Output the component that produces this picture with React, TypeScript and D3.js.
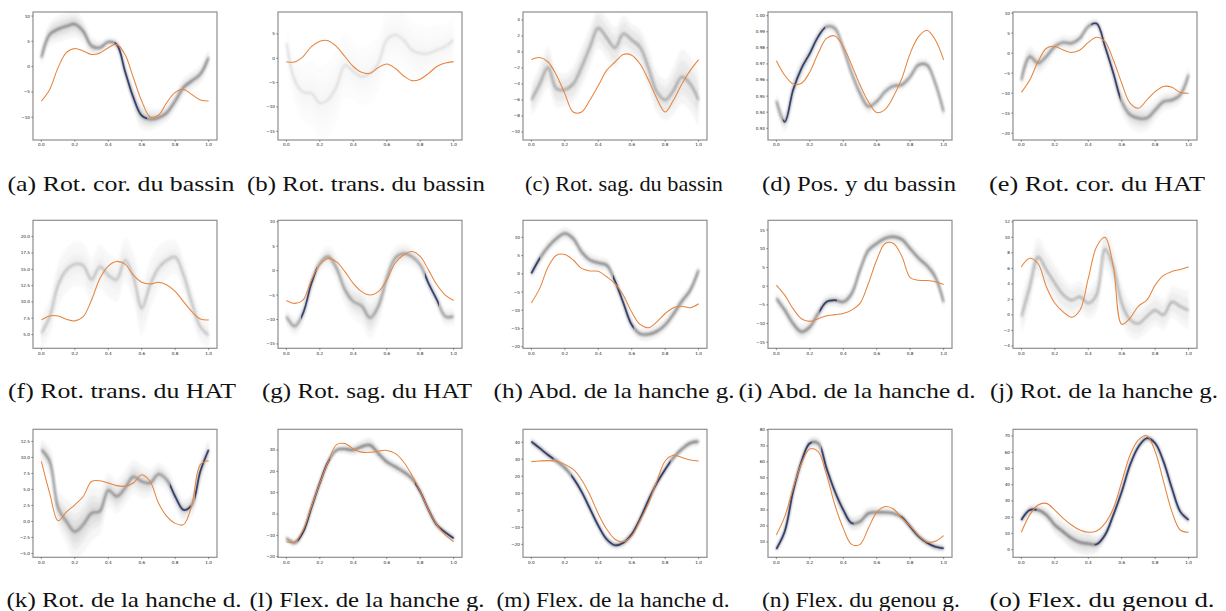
import React from "react";
import * as d3 from "d3";

// ---------- shared sample grids ----------
const T21 = [0, 0.05, 0.1, 0.15, 0.2, 0.25, 0.3, 0.35, 0.4, 0.45, 0.5, 0.55, 0.6, 0.65, 0.7, 0.75, 0.8, 0.85, 0.9, 0.95, 1];
const T11 = [0, 0.1, 0.2, 0.3, 0.4, 0.5, 0.6, 0.7, 0.8, 0.9, 1];
const xTicks = [0, 0.2, 0.4, 0.6, 0.8, 1.0];

// ---------- (a) ----------
const aOrange = [-6.8, -4.5, -0.2, 2.8, 3.6, 3.1, 2.4, 2.7, 3.75, 4.4, 2.4, -2.2, -6.8, -9.9, -9.6, -7.1, -5.1, -4.5, -5.5, -6.6, -6.8];
const aBundle = [1.8, 6.4, 7.4, 8.0, 8.4, 7.0, 4.1, 3.75, 4.9, 4.4, -0.9, -6.1, -9.7, -10.4, -10.1, -9.1, -6.8, -4.1, -2.8, -1.5, 1.8];
const aSpread = [1, 1.5, 1.5, 1, 0.5, 0.7, 1.5, 1, 1, 1, 1];
const aYTicks = [-10, -5, 0, 5, 10];
// ---------- (b) ----------
const bOrange = [-0.7, -0.75, 0.35, 2.4, 3.5, 3.6, 2.4, 0.35, -1.7, -2.9, -3.1, -1.9, -1.2, -2.05, -3.6, -4.6, -4.3, -3.1, -1.7, -1.0, -0.7];
const bBundle = [3.1, -4.5, -7.0, -7.2, -9.2, -8.5, -5.8, -1.4, -2.7, -3.8, -3.1, -1.0, 3.8, 4.8, 3.8, 1.7, 1.0, 1.0, 1.7, 2.4, 3.8];
const bSpread = [2.5, 3.5, 4.5, 4.5, 3.5, 3.5, 3.5, 3.5, 3.5, 3, 2.5];
const bYTicks = [-15, -10, -5, 0, 5];
// ---------- (c) ----------
const cOrange = [-0.95, -0.7, -1.25, -2.9, -5.2, -7.5, -7.5, -6.0, -4.2, -2.3, -1.25, -0.3, -0.4, -1.5, -3.5, -5.8, -7.5, -6.0, -4.0, -2.3, -0.95];
const cBundle = [-6.0, -4.0, -1.9, -4.6, -4.7, -4.0, -1.9, 0.6, 3.0, 1.8, 0.5, 2.3, 1.5, 0.6, -2.0, -5.0, -6.0, -4.8, -3.1, -4.0, -6.0];
const cSpread = [1.2, 1.5, 1.2, 1.5, 1.5, 1.5, 1.2, 1.5, 1.5, 2, 2];
const cYTicks = [-10, -8, -6, -4, -2, 0, 2, 4];
// ---------- (d) ----------
const dOrange = [0.972, 0.963, 0.9576, 0.958, 0.965, 0.9766, 0.9859, 0.9874, 0.9807, 0.9694, 0.957, 0.9466, 0.9398, 0.9418, 0.9497, 0.961, 0.9766, 0.987, 0.991, 0.985, 0.9725];
const dBundle = [0.947, 0.934, 0.9538, 0.9673, 0.9766, 0.987, 0.9932, 0.9921, 0.9797, 0.9642, 0.9518, 0.9435, 0.9466, 0.9528, 0.9563, 0.957, 0.9621, 0.9694, 0.9694, 0.958, 0.9404];
const dSpread = [0.003, 0.004, 0.003, 0.002, 0.002, 0.003, 0.002, 0.002, 0.002, 0.002, 0.003];
const dYTicks = [0.93, 0.94, 0.95, 0.96, 0.97, 0.98, 0.99, 1.0];
// ---------- (e) ----------
const eOrange = [-9.8, -6.7, -2.1, 1.25, 1.7, 0.8, 0.2, 0.8, 2.7, 4.0, 2.9, -1.7, -7.5, -12.5, -13.75, -11.7, -9.6, -8.3, -8.5, -9.8, -10.0];
const eBundle = [-6.7, -0.8, -2.5, -0.8, 1.7, 2.7, 2.5, 3.75, 6.7, 7.4, 1.7, -5.0, -12.1, -15.4, -16.25, -16.25, -14.2, -12.1, -11.7, -10.4, -5.4];
const eSpread = [1.5, 1.5, 1, 1, 0.7, 0.7, 1.5, 2, 1.5, 1.2, 1.2];
const eYTicks = [-20, -15, -10, -5, 0, 5, 10];
// ---------- (f) ----------
const fOrange = [7.25, 7.85, 7.85, 7.35, 7.1, 7.75, 10.3, 13.6, 15.5, 16.2, 15.8, 14.1, 13.0, 12.75, 13.0, 12.6, 11.6, 10.05, 8.5, 7.4, 7.25];
const fBundle = [5.2, 7.75, 12.6, 14.9, 15.8, 15.6, 13.4, 15.4, 14.1, 13.4, 16.4, 13.9, 9.0, 12.6, 15.2, 16.4, 16.9, 14.1, 9.8, 6.2, 4.9];
const fSpread = [1.5, 2, 2, 2, 2, 2, 2.5, 2, 1.5, 1.5, 1.2];
const fYTicks = [5, 7.5, 10, 12.5, 15, 17.5, 20];
// ---------- (g) ----------
const gOrange = [-6.1, -6.7, -6.0, -1.9, 1.2, 2.5, 1.8, -0.2, -2.6, -4.3, -5.0, -4.3, -1.9, 1.5, 3.2, 3.9, 2.9, 0.1, -2.9, -5.0, -6.1];
const gBundle = [-9.4, -11.4, -8.7, -2.6, 1.5, 2.9, 0.5, -3.9, -6.3, -7.2, -9.7, -7.3, -1.6, 2.5, 3.5, 2.9, 1.2, -2.6, -6.0, -9.4, -9.4];
const gSpread = [1, 1.2, 1, 1.5, 2, 2.5, 1.5, 1.2, 1, 1, 1];
const gYTicks = [-15, -10, -5, 0, 5, 10];
// ---------- (h) ----------
const hOrange = [-8.0, -4.0, 1.9, 5.1, 5.3, 3.8, 1.5, 0.8, 0.7, -0.8, -2.7, -5.9, -10.5, -13.9, -14.8, -13.2, -10.9, -9.3, -8.9, -9.3, -8.2];
const hBundle = [0.1, 4.2, 7.4, 9.7, 11.1, 9.7, 6.05, 3.8, 3.0, 2.4, -2.0, -8.0, -14.0, -16.5, -16.6, -15.8, -14.0, -11.0, -7.5, -4.5, 1.0];
const hSpread = [1, 1, 1, 1, 1, 1, 1, 1, 1, 1, 1];
const hYTicks = [-20, -15, -10, -5, 0, 5, 10];
// ---------- (i) ----------
const iOrange = [0.3, -2.4, -6.0, -8.7, -9.4, -8.7, -7.9, -7.6, -7.3, -6.4, -4.6, 0.7, 7.0, 11.4, 11.4, 8.0, 2.3, 1.6, 1.5, 1.2, 0.45];
const iBundle = [-3.3, -6.4, -10.0, -12.2, -10.9, -7.3, -4.2, -3.75, -4.2, -2.0, 4.3, 9.6, 11.4, 12.8, 13.2, 12.5, 10.0, 7.5, 5.5, 2.5, -4.2];
const iSpread = [1, 1.2, 1.2, 1, 1, 1, 1, 1, 1, 1, 1];
const iYTicks = [-15, -10, -5, 0, 5, 10, 15];
// ---------- (j) ----------
const jOrange = [6.2, 7.3, 6.6, 3.6, 1.5, 0.4, -0.3, 0.6, 4.7, 8.8, 10.0, 6.2, -1.2, -0.4, 1.15, 1.9, 3.85, 5.1, 5.6, 5.85, 6.2];
const jBundle = [-0.2, 3.6, 7.5, 5.8, 4.1, 2.6, 1.9, 2.35, 1.5, 2.6, 8.5, 6.2, 1.5, -0.6, -1.1, -0.2, 0.6, 0.0, 1.7, 1.1, 0.6];
const jSpread = [1.5, 1.5, 1.5, 1.2, 1.2, 1.5, 1.5, 1.2, 1.2, 1.2, 1.5];
const jYTicks = [-4, -2, 0, 2, 4, 6, 8, 10, 12];
// ---------- (k) ----------
const kOrange = [9.4, 4.4, 0.1, 1.5, 2.6, 3.9, 6.25, 6.35, 6.0, 5.6, 5.5, 6.0, 7.3, 6.25, 2.9, 0.8, -0.3, -0.5, 2.6, 8.9, 9.5];
const kBundle = [11.2, 9.4, 2.1, 0.0, -1.6, -0.5, 1.3, 1.6, 4.9, 3.9, 5.2, 7.0, 6.25, 6.0, 7.4, 6.5, 3.9, 1.8, 2.6, 7.8, 11.2];
const kSpread = [1, 1.5, 2.5, 2.5, 1.5, 1.5, 1.5, 1, 1, 1, 1];
const kYTicks = [-5, -2.5, 0, 2.5, 5, 7.5, 10, 12.5];
// ---------- (l) ----------
const lOrange = [-13.0, -13.2, -7.5, 3.5, 14.5, 24.5, 32.5, 33.0, 30.5, 29.0, 28.9, 29.5, 29.8, 28.4, 24.5, 18.3, 10.5, 1.9, -5.2, -9.8, -13.0];
const lBundle = [-11.4, -13.5, -8.5, 3.0, 14.5, 24.5, 30.0, 30.5, 30.0, 31.6, 32.3, 28.4, 24.5, 22.2, 19.8, 16.7, 10.5, 1.9, -5.2, -8.6, -11.4];
const lSpread = [1, 1, 1, 1, 1.5, 2, 1.5, 1.5, 1, 1, 1];
const lYTicks = [-20, -10, 0, 10, 20, 30];
// ---------- (m) ----------
const mOrange = [28.6, 29.0, 29.2, 28.8, 27, 24, 18, 9, -2, -11, -17, -18.5, -15, -6, 4, 17, 29, 32.3, 31, 29.5, 29.0];
const mBundle = [40.4, 36.5, 32.5, 29.0, 25, 19, 11, 1, -9, -17, -20.5, -19, -14, -5, 6, 16, 24, 31, 36, 39.5, 40.4];
const mSpread = [1.5, 1.5, 1.5, 1.5, 1.5, 1.5, 1.5, 1.5, 1.5, 1.5, 1.5];
const mYTicks = [-20, -10, 0, 10, 20, 30, 40];
// ---------- (n) ----------
const nOrange = [14.4, 25.8, 43.5, 59.2, 68.1, 66.5, 51.9, 33.1, 18.5, 8.5, 8.5, 18.5, 28.5, 32.1, 30.6, 25, 20, 14, 10, 10.5, 14];
const nBundle = [5.6, 16.5, 41.5, 60.2, 71.7, 71.7, 56.0, 41.5, 30.0, 21.7, 22.7, 27.9, 28.5, 28.5, 27.9, 25.5, 19.5, 13.5, 9.5, 7, 6.0];
const nSpread = [1.5, 2, 2, 2, 2.5, 2.5, 2, 1.5, 1.5, 1.5, 1.5];
const nYTicks = [10, 20, 30, 40, 50, 60, 70, 80];
// ---------- (o) ----------
const oOrange = [10.7, 21.4, 27.5, 28.5, 24.4, 19.3, 15.2, 12.1, 10.7, 11.5, 16.2, 25.5, 41.9, 58.3, 67.6, 70.2, 60.4, 41.9, 23.4, 12.1, 10.7];
const oBundle = [18.3, 24.4, 24.4, 21.4, 15.2, 11.1, 7.0, 4.5, 3.7, 3.3, 9.0, 21.4, 35.7, 52.2, 63.4, 68.6, 65.5, 54.2, 37.8, 23.4, 18.3];
const oSpread = [1.5, 2, 3, 4, 4, 2, 1.5, 1.5, 1.5, 1.5, 1.5];
const oYTicks = [0, 10, 20, 30, 40, 50, 60, 70];

const captions = [
  "(a) Rot. cor. du bassin", "(b) Rot. trans. du bassin", "(c) Rot. sag. du bassin", "(d) Pos. y du bassin", "(e) Rot. cor. du HAT",
  "(f) Rot. trans. du HAT", "(g) Rot. sag. du HAT", "(h) Abd. de la hanche g.", "(i) Abd. de la hanche d.", "(j) Rot. de la hanche g.",
  "(k) Rot. de la hanche d.", "(l) Flex. de la hanche g.", "(m) Flex. de la hanche d.", "(n) Flex. du genou g.", "(o) Flex. du genou d.",
];

type PanelDef = {
  orange: number[]; bundle: number[]; spread: number[]; yDomain: [number, number]; yTicks: number[];
  fmt: string; blue: [number, number][]; ink: number;
};

const panels: PanelDef[] = [
  { orange: aOrange, bundle: aBundle, spread: aSpread, yDomain: [-14.5, 10.8], yTicks: aYTicks, fmt: "d", blue: [[0.45, 0.62]], ink: 0.55 },
  { orange: bOrange, bundle: bBundle, spread: bSpread, yDomain: [-16.8, 9.5], yTicks: bYTicks, fmt: "d", blue: [], ink: 0.12 },
  { orange: cOrange, bundle: cBundle, spread: cSpread, yDomain: [-11.0, 5.0], yTicks: cYTicks, fmt: "d", blue: [], ink: 0.38 },
  { orange: dOrange, bundle: dBundle, spread: dSpread, yDomain: [0.9227, 1.0023], yTicks: dYTicks, fmt: ".2f", blue: [[0.05, 0.28]], ink: 0.5 },
  { orange: eOrange, bundle: eBundle, spread: eSpread, yDomain: [-21.7, 10.3], yTicks: eYTicks, fmt: "d", blue: [[0.43, 0.58]], ink: 0.5 },
  { orange: fOrange, bundle: fBundle, spread: fSpread, yDomain: [2.9, 22.5], yTicks: fYTicks, fmt: ".1f", blue: [], ink: 0.26 },
  { orange: gOrange, bundle: gBundle, spread: gSpread, yDomain: [-15.9, 10.3], yTicks: gYTicks, fmt: "d", blue: [[0.1, 0.17], [0.84, 0.9]], ink: 0.45 },
  { orange: hOrange, bundle: hBundle, spread: hSpread, yDomain: [-20.45, 14.7], yTicks: hYTicks, fmt: "d", blue: [[0, 0.04], [0.5, 0.6]], ink: 0.55 },
  { orange: iOrange, bundle: iBundle, spread: iSpread, yDomain: [-16.6, 17.6], yTicks: iYTicks, fmt: "d", blue: [[0.27, 0.35]], ink: 0.55 },
  { orange: jOrange, bundle: jBundle, spread: jSpread, yDomain: [-4.3, 12.2], yTicks: jYTicks, fmt: "d", blue: [], ink: 0.32 },
  { orange: kOrange, bundle: kBundle, spread: kSpread, yDomain: [-5.6, 14.4], yTicks: kYTicks, fmt: ".1f", blue: [[0.78, 0.88], [0.93, 1.0]], ink: 0.5 },
  { orange: lOrange, bundle: lBundle, spread: lSpread, yDomain: [-20.3, 39.7], yTicks: lYTicks, fmt: "d", blue: [[0.08, 0.25], [0.78, 1.0]], ink: 0.6 },
  { orange: mOrange, bundle: mBundle, spread: mSpread, yDomain: [-27.6, 47.6], yTicks: mYTicks, fmt: "d", blue: [[0, 0.12], [0.25, 0.82]], ink: 0.6 },
  { orange: nOrange, bundle: nBundle, spread: nSpread, yDomain: [0.4, 80.4], yTicks: nYTicks, fmt: "d", blue: [[0, 0.2], [0.28, 0.45], [0.75, 1]], ink: 0.6 },
  { orange: oOrange, bundle: oBundle, spread: oSpread, yDomain: [-4.7, 74.1], yTicks: oYTicks, fmt: "d", blue: [[0, 0.08], [0.45, 1]], ink: 0.6 },
];

// ---------- layout ----------
const colLeft = [33, 278, 523, 768, 1013];
const rowTop = [12, 220.3, 429.3];
const PW = 184;
const PH = 128;
const capBaseline = [191, 398, 607];
const capCenter = [121, 366, 624, 859, 1097, 122, 367, 614, 857, 1104, 124, 367, 613, 861, 1102];
const capWidth = [227, 238, 198, 194, 216, 228, 210, 241, 237, 228, 235, 235, 233, 198, 225];

const ORANGE = "#e6843e";
const NAVY = "#27346a";

function Panel({ p, i }: { p: PanelDef; i: number }) {
  const col = i % 5;
  const row = Math.floor(i / 5);
  const L = colLeft[col];
  const T = rowTop[row];
  const x = d3.scaleLinear().domain([-0.05, 1.05]).range([L, L + PW]);
  const y = d3.scaleLinear().domain(p.yDomain).range([T + PH, T]);
  const sp = d3.scaleLinear().domain(T11).range(p.spread);
  const curve = d3.curveCatmullRom.alpha(0.5);
  const line = d3.line<number>().x((_, j) => x(T21[j])).y((d) => y(d)).curve(curve);
  const band = (k: number) =>
    d3.area<number>()
      .x((_, j) => x(T21[j]))
      .y0((d, j) => y(d - k * sp(T21[j])))
      .y1((d, j) => y(d + k * sp(T21[j])))
      .curve(curve)(p.bundle) as string;
  const yFmt = d3.format(p.fmt);
  const xFmt = d3.format(".1f");
  const clipId = `clip-${i}`;
  const blueId = `blue-${i}`;
  return (
    <g>
      <defs>
        <clipPath id={clipId}>
          <rect x={L} y={T} width={PW} height={PH} />
        </clipPath>
        <clipPath id={blueId}>
          {p.blue.map((r, k) => (
            <rect key={k} x={x(r[0]) - 2} y={T} width={x(r[1]) - x(r[0]) + 4} height={PH} />
          ))}
        </clipPath>
      </defs>
      <rect x={L} y={T} width={PW} height={PH} fill="#fff" />
      <g clipPath={`url(#${clipId})`}>
        <g filter="url(#soft)">
          {[1.7, 1.1, 0.7, 0.35].map((k) => (
            <path key={k} d={band(k)} fill="#3a3a3a" fillOpacity={p.ink * 0.1} stroke="none" />
          ))}
          <path d={line(p.bundle) as string} fill="none" stroke="#2a2a2a" strokeWidth={1.9} strokeOpacity={p.ink} />
        </g>
        {p.blue.length > 0 && (
          <path d={line(p.bundle) as string} fill="none" stroke={NAVY} strokeWidth={1.7} strokeOpacity={0.9} clipPath={`url(#${blueId})`} />
        )}
        <path d={line(p.orange) as string} fill="none" stroke={ORANGE} strokeWidth={1.05} />
      </g>
      <rect x={L} y={T} width={PW} height={PH} fill="none" stroke="#8e8e8e" strokeWidth={1.2} />
      {p.yTicks.map((t) => (
        <g key={t}>
          <line x1={L - 1.8} x2={L} y1={y(t)} y2={y(t)} stroke="#333" strokeWidth={0.5} />
          <text x={L - 3} y={y(t)} dy="0.35em" textAnchor="end" fontSize={4.2} fill="#222" fontFamily="DejaVu Sans">
            {yFmt(t)}
          </text>
        </g>
      ))}
      {xTicks.map((t) => (
        <g key={t}>
          <line x1={x(t)} x2={x(t)} y1={T + PH} y2={T + PH + 1.8} stroke="#333" strokeWidth={0.5} />
          <text x={x(t)} y={T + PH + 6.2} textAnchor="middle" fontSize={4.2} fill="#222" fontFamily="DejaVu Sans">
            {xFmt(t)}
          </text>
        </g>
      ))}
      <text
        x={capCenter[i]}
        y={capBaseline[row]}
        textAnchor="middle"
        fontFamily="Liberation Serif"
        fontSize={i === 12 ? 20 : 22}
        textLength={capWidth[i]}
        lengthAdjust="spacingAndGlyphs"
        fill="#111"
      >
        {captions[i]}
      </text>
    </g>
  );
}

export default function App() {
  return (
    <svg width={1226} height={611} style={{ position: "absolute", left: 0, top: 0, background: "#fff" }}>
      <defs>
        <filter id="soft" x="-5%" y="-5%" width="110%" height="110%">
          <feGaussianBlur stdDeviation="0.8" />
        </filter>
      </defs>
      <rect width={1226} height={611} fill="#fff" />
      {panels.map((p, i) => (
        <Panel key={i} p={p} i={i} />
      ))}
    </svg>
  );
}
